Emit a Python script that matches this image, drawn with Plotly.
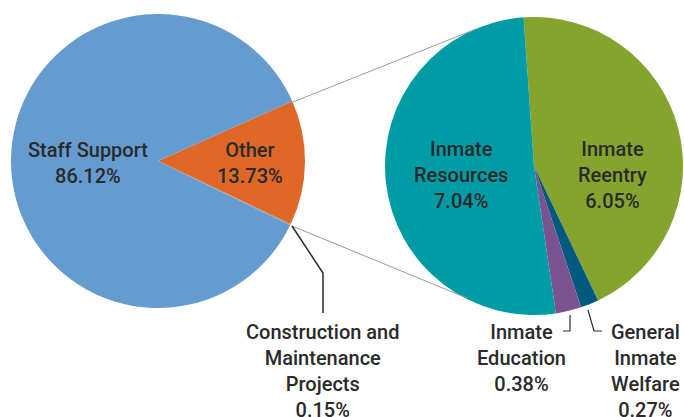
import plotly.graph_objects as go

# Left pie: share of total
left_labels = ["Other", "Construction and Maintenance Projects", "Staff Support"]
left_values = [13.73, 0.15, 86.12]
left_colors = ["#E06826", "#9A9A9A", "#669BD0"]

# Right pie: breakdown of "Other"
right_labels = ["Inmate Reentry", "General Inmate Welfare", "Inmate Education", "Inmate Resources"]
right_values = [6.05, 0.27, 0.38, 7.04]
right_colors = ["#84A42E", "#005A80", "#7B5290", "#009CA6"]

W, H = 684, 417
TXT = "#2A2A2A"
FONT = "Roboto"
FS = 20

def px(x):
    return x / W

def py(y):
    return 1 - y / H

fig = go.Figure()
fig.add_trace(go.Pie(
    labels=left_labels, values=left_values, sort=False, direction="clockwise",
    rotation=66, marker=dict(colors=left_colors, line=dict(width=0)),
    textinfo="none", hoverinfo="label+value",
    domain=dict(x=[px(11), px(305)], y=[py(308), py(14)]),
    showlegend=False,
))
fig.add_trace(go.Pie(
    labels=right_labels, values=right_values, sort=False, direction="clockwise",
    rotation=-4, marker=dict(colors=right_colors, line=dict(width=0)),
    textinfo="none", hoverinfo="label+value",
    domain=dict(x=[px(385), px(683)], y=[py(315), py(17)]),
    showlegend=False,
))

def pct(v):
    return f"{v:.2f}%"

annots = [
    (88, 163, f"Staff Support<br>{pct(left_values[2])}"),
    (250, 163, f"Other<br>{pct(left_values[0])}"),
    (461, 175, f"Inmate<br>Resources<br>{pct(right_values[3])}"),
    (612, 175, f"Inmate<br>Reentry<br>{pct(right_values[0])}"),
    (323, 371, f"Construction and<br>Maintenance<br>Projects<br>{pct(left_values[1])}"),
    (521, 358, f"Inmate<br>Education<br>{pct(right_values[2])}"),
    (645, 371, f"General<br>Inmate<br>Welfare<br>{pct(right_values[1])}"),
]
for x, y, t in annots:
    fig.add_annotation(x=px(x), y=py(y), xref="paper", yref="paper", text=t,
                       showarrow=False, xanchor="center", yanchor="middle",
                       font=dict(family=FONT, size=FS, color=TXT, weight=500),
                       align="center")

shapes = []
def seg(pts, color, width):
    path = "M " + " L ".join(f"{px(a)},{py(b)}" for a, b in pts)
    shapes.append(dict(type="path", path=path, xref="paper", yref="paper",
                       line=dict(color=color, width=width)))

seg([(293, 102), (476, 29)], "#9A9A9A", 1)
seg([(292, 226), (467, 298)], "#9A9A9A", 1)
seg([(292, 226), (323, 273), (323, 313)], "#2A2A2A", 1.5)
seg([(570, 315), (570, 331), (563, 331)], "#2A2A2A", 1.2)
seg([(588, 310), (594, 331), (602, 331)], "#2A2A2A", 1.2)

fig.update_layout(width=W, height=H, margin=dict(l=0, r=0, t=0, b=0),
                  paper_bgcolor="white", plot_bgcolor="white", shapes=shapes)
fig.write_html("out.html", config={"displayModeBar": False},
               post_script="document.body.style.margin='0';document.body.style.overflow='hidden';")
